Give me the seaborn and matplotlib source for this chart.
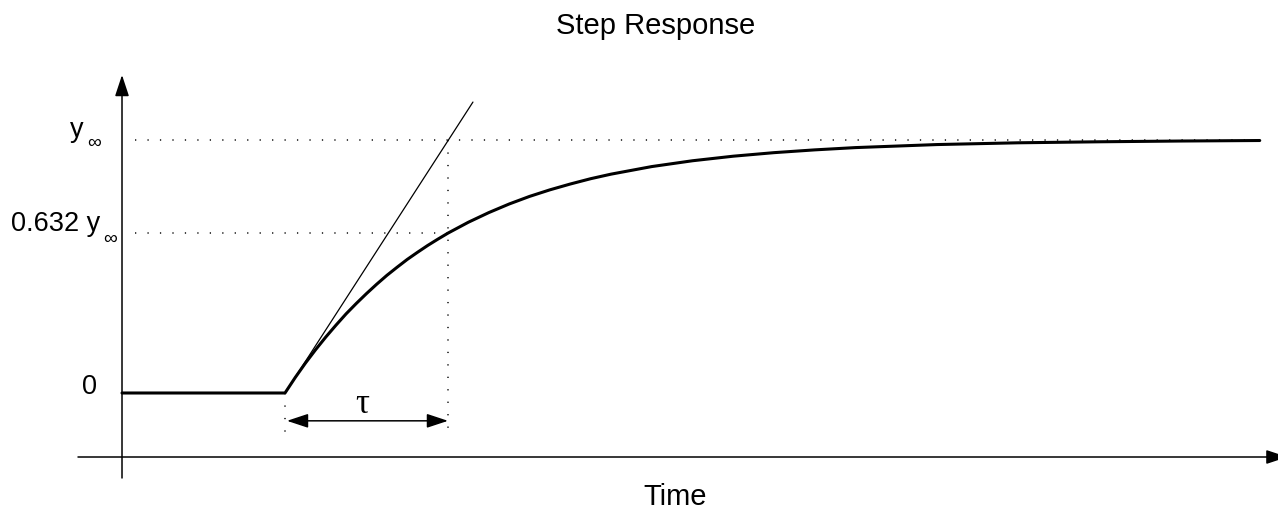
import matplotlib
matplotlib.use("Agg")
import matplotlib.pyplot as plt
import pandas as pd
import seaborn as sns

# step response (time in units of tau, output in units of y_inf)
t_resp = [-1.0, 0.0, 0.0625, 0.125, 0.1875, 0.25, 0.3125, 0.375, 0.4375, 0.5, 0.5625,
          0.625, 0.6875, 0.75, 0.8125, 0.875, 0.9375, 1.0, 1.125, 1.25, 1.375, 1.5,
          1.625, 1.75, 1.875, 2.0, 2.25, 2.5, 2.75, 3.0, 3.25, 3.5, 3.75, 4.0, 4.5,
          5.0, 5.5, 5.98]
y_resp = [0.0, 0.0, 0.061, 0.118, 0.171, 0.221, 0.268, 0.313, 0.354, 0.393, 0.430,
          0.465, 0.497, 0.528, 0.556, 0.583, 0.608, 0.632, 0.675, 0.713, 0.747, 0.777,
          0.803, 0.826, 0.847, 0.865, 0.895, 0.918, 0.936, 0.950, 0.961, 0.970, 0.976,
          0.982, 0.989, 0.993, 0.996, 0.998]

# tangent at the step
tangent_t = [0.0, 1.153]
tangent_y = [0.0, 1.150]

y_levels = [1.0, 0.632]
y_labels = ["y", "0.632 y"]
tau = 1.0

sns.set_style("white")
plt.rcParams["font.family"] = ["Liberation Sans", "DejaVu Sans"]
plt.rcParams["text.color"] = "black"

df = pd.DataFrame({"t": t_resp, "y": y_resp})

fig = plt.figure(figsize=(12.78, 5.14), dpi=100)
ax = fig.add_axes([0, 0, 1, 1])
ax.set_xlim(-1.7485, 6.092)
ax.set_ylim(-0.4783, 1.5534)
ax.axis("off")

dot = dict(color="#333333", lw=1.3, linestyle=(0, (0.7, 6.2)))

# dotted guide lines
ax.plot([-0.92, 5.98], [y_levels[0], y_levels[0]], **dot)
ax.plot([-0.92, tau], [y_levels[1], y_levels[1]], **dot)
ax.plot([tau, tau], [1.0, -0.165], **dot)
ax.plot([0, 0], [0, -0.155], **dot)

# tangent and response
ax.plot(tangent_t, tangent_y, color="black", lw=0.9)
sns.lineplot(data=df, x="t", y="y", ax=ax, color="black", lw=2.2, sort=False)

# axes with arrow heads
head = dict(arrowstyle="-|>,head_length=1.3,head_width=0.43", mutation_scale=10,
            color="black", lw=1.1, shrinkA=0, shrinkB=0)
ax.annotate("", xy=(-1.0, 1.257), xytext=(-1.0, -0.336), arrowprops=head)
ax.annotate("", xy=(6.15, -0.253), xytext=(-1.27, -0.253), arrowprops=head,
            annotation_clip=False)

# tau span
span = dict(arrowstyle="<|-|>,head_length=1.3,head_width=0.43", mutation_scale=10,
            color="black", lw=1.1, shrinkA=0, shrinkB=0)
ax.annotate("", xy=(tau, -0.11), xytext=(0.012, -0.11), arrowprops=span)
ax.text(0.472, -0.047, "τ", family=["Liberation Serif", "DejaVu Serif"], fontsize=25,
        ha="center", va="center")

# y labels
ax.text(-1.153, 0.022, "0", fontsize=19.5, ha="right", va="center")
ax.text(-1.233, 1.012, y_labels[0], fontsize=19.5, ha="right", va="baseline")
ax.text(-1.215, 0.985, "∞", fontsize=14, ha="left", va="center")
ax.text(-1.135, 0.640, y_labels[1], fontsize=19.5, ha="right", va="baseline")
ax.text(-1.117, 0.608, "∞", fontsize=14, ha="left", va="center")

ax.text(2.276, 1.452, "Step Response", fontsize=21, ha="center", va="center")
ax.text(2.393, -0.411, "Time", fontsize=21, ha="center", va="center")

fig.savefig("out.png", dpi=100)
